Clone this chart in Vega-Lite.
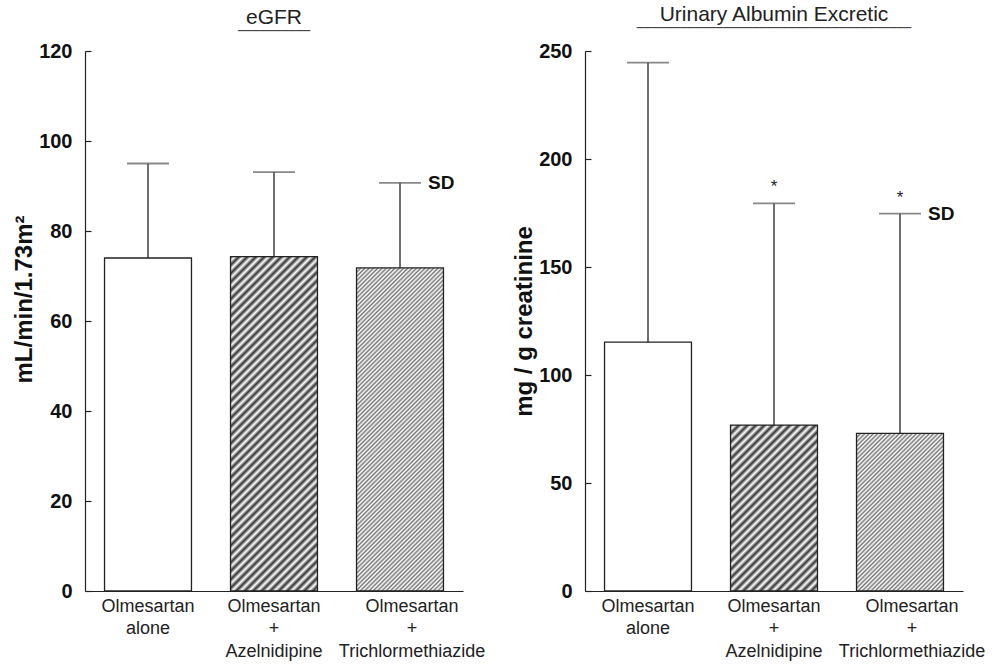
{
  "$schema": "https://vega.github.io/schema/vega-lite/v6.json",
  "padding": {"left": 12, "top": 3, "right": 5, "bottom": 2},
  "background": "white",
  "params": [
    {"name": "hatchA", "value": [{"offset":0,"color":"#333"},{"offset":0.01,"color":"#fff"},{"offset":0.02,"color":"#333"},{"offset":0.03,"color":"#fff"},{"offset":0.04,"color":"#333"},{"offset":0.05,"color":"#fff"},{"offset":0.06,"color":"#333"},{"offset":0.07,"color":"#fff"},{"offset":0.08,"color":"#333"},{"offset":0.09,"color":"#fff"},{"offset":0.1,"color":"#333"},{"offset":0.11,"color":"#fff"},{"offset":0.12,"color":"#333"},{"offset":0.13,"color":"#fff"},{"offset":0.14,"color":"#333"},{"offset":0.15,"color":"#fff"},{"offset":0.16,"color":"#333"},{"offset":0.17,"color":"#fff"},{"offset":0.18,"color":"#333"},{"offset":0.19,"color":"#fff"},{"offset":0.2,"color":"#333"},{"offset":0.21,"color":"#fff"},{"offset":0.22,"color":"#333"},{"offset":0.23,"color":"#fff"},{"offset":0.24,"color":"#333"},{"offset":0.25,"color":"#fff"},{"offset":0.26,"color":"#333"},{"offset":0.27,"color":"#fff"},{"offset":0.28,"color":"#333"},{"offset":0.29,"color":"#fff"},{"offset":0.3,"color":"#333"},{"offset":0.31,"color":"#fff"},{"offset":0.32,"color":"#333"},{"offset":0.33,"color":"#fff"},{"offset":0.34,"color":"#333"},{"offset":0.35,"color":"#fff"},{"offset":0.36,"color":"#333"},{"offset":0.37,"color":"#fff"},{"offset":0.38,"color":"#333"},{"offset":0.39,"color":"#fff"},{"offset":0.4,"color":"#333"},{"offset":0.41,"color":"#fff"},{"offset":0.42,"color":"#333"},{"offset":0.43,"color":"#fff"},{"offset":0.44,"color":"#333"},{"offset":0.45,"color":"#fff"},{"offset":0.46,"color":"#333"},{"offset":0.47,"color":"#fff"},{"offset":0.48,"color":"#333"},{"offset":0.49,"color":"#fff"},{"offset":0.5,"color":"#333"},{"offset":0.51,"color":"#fff"},{"offset":0.52,"color":"#333"},{"offset":0.53,"color":"#fff"},{"offset":0.54,"color":"#333"},{"offset":0.55,"color":"#fff"},{"offset":0.56,"color":"#333"},{"offset":0.57,"color":"#fff"},{"offset":0.58,"color":"#333"},{"offset":0.59,"color":"#fff"},{"offset":0.6,"color":"#333"},{"offset":0.61,"color":"#fff"},{"offset":0.62,"color":"#333"},{"offset":0.63,"color":"#fff"},{"offset":0.64,"color":"#333"},{"offset":0.65,"color":"#fff"},{"offset":0.66,"color":"#333"},{"offset":0.67,"color":"#fff"},{"offset":0.68,"color":"#333"},{"offset":0.69,"color":"#fff"},{"offset":0.7,"color":"#333"},{"offset":0.71,"color":"#fff"},{"offset":0.72,"color":"#333"},{"offset":0.73,"color":"#fff"},{"offset":0.74,"color":"#333"},{"offset":0.75,"color":"#fff"},{"offset":0.76,"color":"#333"},{"offset":0.77,"color":"#fff"},{"offset":0.78,"color":"#333"},{"offset":0.79,"color":"#fff"},{"offset":0.8,"color":"#333"},{"offset":0.81,"color":"#fff"},{"offset":0.82,"color":"#333"},{"offset":0.83,"color":"#fff"},{"offset":0.84,"color":"#333"},{"offset":0.85,"color":"#fff"},{"offset":0.86,"color":"#333"},{"offset":0.87,"color":"#fff"},{"offset":0.88,"color":"#333"},{"offset":0.89,"color":"#fff"},{"offset":0.9,"color":"#333"},{"offset":0.91,"color":"#fff"},{"offset":0.92,"color":"#333"},{"offset":0.93,"color":"#fff"},{"offset":0.94,"color":"#333"},{"offset":0.95,"color":"#fff"},{"offset":0.96,"color":"#333"},{"offset":0.97,"color":"#fff"},{"offset":0.98,"color":"#333"},{"offset":0.99,"color":"#fff"},{"offset":1,"color":"#333"}]},
    {"name": "hatchB", "value": [{"offset":0,"color":"#777"},{"offset":0.005,"color":"#fff"},{"offset":0.01,"color":"#777"},{"offset":0.015,"color":"#fff"},{"offset":0.02,"color":"#777"},{"offset":0.025,"color":"#fff"},{"offset":0.03,"color":"#777"},{"offset":0.035,"color":"#fff"},{"offset":0.04,"color":"#777"},{"offset":0.045,"color":"#fff"},{"offset":0.05,"color":"#777"},{"offset":0.055,"color":"#fff"},{"offset":0.06,"color":"#777"},{"offset":0.065,"color":"#fff"},{"offset":0.07,"color":"#777"},{"offset":0.075,"color":"#fff"},{"offset":0.08,"color":"#777"},{"offset":0.085,"color":"#fff"},{"offset":0.09,"color":"#777"},{"offset":0.095,"color":"#fff"},{"offset":0.1,"color":"#777"},{"offset":0.105,"color":"#fff"},{"offset":0.11,"color":"#777"},{"offset":0.115,"color":"#fff"},{"offset":0.12,"color":"#777"},{"offset":0.125,"color":"#fff"},{"offset":0.13,"color":"#777"},{"offset":0.135,"color":"#fff"},{"offset":0.14,"color":"#777"},{"offset":0.145,"color":"#fff"},{"offset":0.15,"color":"#777"},{"offset":0.155,"color":"#fff"},{"offset":0.16,"color":"#777"},{"offset":0.165,"color":"#fff"},{"offset":0.17,"color":"#777"},{"offset":0.175,"color":"#fff"},{"offset":0.18,"color":"#777"},{"offset":0.185,"color":"#fff"},{"offset":0.19,"color":"#777"},{"offset":0.195,"color":"#fff"},{"offset":0.2,"color":"#777"},{"offset":0.205,"color":"#fff"},{"offset":0.21,"color":"#777"},{"offset":0.215,"color":"#fff"},{"offset":0.22,"color":"#777"},{"offset":0.225,"color":"#fff"},{"offset":0.23,"color":"#777"},{"offset":0.235,"color":"#fff"},{"offset":0.24,"color":"#777"},{"offset":0.245,"color":"#fff"},{"offset":0.25,"color":"#777"},{"offset":0.255,"color":"#fff"},{"offset":0.26,"color":"#777"},{"offset":0.265,"color":"#fff"},{"offset":0.27,"color":"#777"},{"offset":0.275,"color":"#fff"},{"offset":0.28,"color":"#777"},{"offset":0.285,"color":"#fff"},{"offset":0.29,"color":"#777"},{"offset":0.295,"color":"#fff"},{"offset":0.3,"color":"#777"},{"offset":0.305,"color":"#fff"},{"offset":0.31,"color":"#777"},{"offset":0.315,"color":"#fff"},{"offset":0.32,"color":"#777"},{"offset":0.325,"color":"#fff"},{"offset":0.33,"color":"#777"},{"offset":0.335,"color":"#fff"},{"offset":0.34,"color":"#777"},{"offset":0.345,"color":"#fff"},{"offset":0.35,"color":"#777"},{"offset":0.355,"color":"#fff"},{"offset":0.36,"color":"#777"},{"offset":0.365,"color":"#fff"},{"offset":0.37,"color":"#777"},{"offset":0.375,"color":"#fff"},{"offset":0.38,"color":"#777"},{"offset":0.385,"color":"#fff"},{"offset":0.39,"color":"#777"},{"offset":0.395,"color":"#fff"},{"offset":0.4,"color":"#777"},{"offset":0.405,"color":"#fff"},{"offset":0.41,"color":"#777"},{"offset":0.415,"color":"#fff"},{"offset":0.42,"color":"#777"},{"offset":0.425,"color":"#fff"},{"offset":0.43,"color":"#777"},{"offset":0.435,"color":"#fff"},{"offset":0.44,"color":"#777"},{"offset":0.445,"color":"#fff"},{"offset":0.45,"color":"#777"},{"offset":0.455,"color":"#fff"},{"offset":0.46,"color":"#777"},{"offset":0.465,"color":"#fff"},{"offset":0.47,"color":"#777"},{"offset":0.475,"color":"#fff"},{"offset":0.48,"color":"#777"},{"offset":0.485,"color":"#fff"},{"offset":0.49,"color":"#777"},{"offset":0.495,"color":"#fff"},{"offset":0.5,"color":"#777"},{"offset":0.505,"color":"#fff"},{"offset":0.51,"color":"#777"},{"offset":0.515,"color":"#fff"},{"offset":0.52,"color":"#777"},{"offset":0.525,"color":"#fff"},{"offset":0.53,"color":"#777"},{"offset":0.535,"color":"#fff"},{"offset":0.54,"color":"#777"},{"offset":0.545,"color":"#fff"},{"offset":0.55,"color":"#777"},{"offset":0.555,"color":"#fff"},{"offset":0.56,"color":"#777"},{"offset":0.565,"color":"#fff"},{"offset":0.57,"color":"#777"},{"offset":0.575,"color":"#fff"},{"offset":0.58,"color":"#777"},{"offset":0.585,"color":"#fff"},{"offset":0.59,"color":"#777"},{"offset":0.595,"color":"#fff"},{"offset":0.6,"color":"#777"},{"offset":0.605,"color":"#fff"},{"offset":0.61,"color":"#777"},{"offset":0.615,"color":"#fff"},{"offset":0.62,"color":"#777"},{"offset":0.625,"color":"#fff"},{"offset":0.63,"color":"#777"},{"offset":0.635,"color":"#fff"},{"offset":0.64,"color":"#777"},{"offset":0.645,"color":"#fff"},{"offset":0.65,"color":"#777"},{"offset":0.655,"color":"#fff"},{"offset":0.66,"color":"#777"},{"offset":0.665,"color":"#fff"},{"offset":0.67,"color":"#777"},{"offset":0.675,"color":"#fff"},{"offset":0.68,"color":"#777"},{"offset":0.685,"color":"#fff"},{"offset":0.69,"color":"#777"},{"offset":0.695,"color":"#fff"},{"offset":0.7,"color":"#777"},{"offset":0.705,"color":"#fff"},{"offset":0.71,"color":"#777"},{"offset":0.715,"color":"#fff"},{"offset":0.72,"color":"#777"},{"offset":0.725,"color":"#fff"},{"offset":0.73,"color":"#777"},{"offset":0.735,"color":"#fff"},{"offset":0.74,"color":"#777"},{"offset":0.745,"color":"#fff"},{"offset":0.75,"color":"#777"},{"offset":0.755,"color":"#fff"},{"offset":0.76,"color":"#777"},{"offset":0.765,"color":"#fff"},{"offset":0.77,"color":"#777"},{"offset":0.775,"color":"#fff"},{"offset":0.78,"color":"#777"},{"offset":0.785,"color":"#fff"},{"offset":0.79,"color":"#777"},{"offset":0.795,"color":"#fff"},{"offset":0.8,"color":"#777"},{"offset":0.805,"color":"#fff"},{"offset":0.81,"color":"#777"},{"offset":0.815,"color":"#fff"},{"offset":0.82,"color":"#777"},{"offset":0.825,"color":"#fff"},{"offset":0.83,"color":"#777"},{"offset":0.835,"color":"#fff"},{"offset":0.84,"color":"#777"},{"offset":0.845,"color":"#fff"},{"offset":0.85,"color":"#777"},{"offset":0.855,"color":"#fff"},{"offset":0.86,"color":"#777"},{"offset":0.865,"color":"#fff"},{"offset":0.87,"color":"#777"},{"offset":0.875,"color":"#fff"},{"offset":0.88,"color":"#777"},{"offset":0.885,"color":"#fff"},{"offset":0.89,"color":"#777"},{"offset":0.895,"color":"#fff"},{"offset":0.9,"color":"#777"},{"offset":0.905,"color":"#fff"},{"offset":0.91,"color":"#777"},{"offset":0.915,"color":"#fff"},{"offset":0.92,"color":"#777"},{"offset":0.925,"color":"#fff"},{"offset":0.93,"color":"#777"},{"offset":0.935,"color":"#fff"},{"offset":0.94,"color":"#777"},{"offset":0.945,"color":"#fff"},{"offset":0.95,"color":"#777"},{"offset":0.955,"color":"#fff"},{"offset":0.96,"color":"#777"},{"offset":0.965,"color":"#fff"},{"offset":0.97,"color":"#777"},{"offset":0.975,"color":"#fff"},{"offset":0.98,"color":"#777"},{"offset":0.985,"color":"#fff"},{"offset":0.99,"color":"#777"},{"offset":0.995,"color":"#fff"},{"offset":1,"color":"#777"}]}
  ],
  "config": {
    "view": {"stroke": null},
    "font": "Liberation Sans",
    "axis": {"domainColor": "#222", "domainWidth": 1.2, "grid": false, "labelColor": "#111", "titleColor": "#111", "labelFont": "Liberation Sans", "titleFont": "Liberation Sans"},
    "axisY": {"tickSize": -6, "tickColor": "#222", "tickWidth": 1.2, "labelFontSize": 20, "labelFontWeight": "bold", "labelPadding": 19, "titleFontSize": 24, "titleFontWeight": "bold", "titlePadding": 2},
    "axisX": {"ticks": false, "labelFontSize": 18, "labelPadding": 6, "labelLineHeight": 22.5, "labelAngle": 0, "labelColor": "#222"},
    "title": {"fontSize": 21, "fontWeight": "normal", "color": "#222", "font": "Liberation Sans", "subtitleFont": "DejaVu Sans Mono", "subtitleFontSize": 12, "subtitleColor": "#333", "subtitlePadding": -2, "offset": 0},
    "concat": {"spacing": 27}
  },
  "hconcat": [
    {
      "width": 378,
      "height": 540,
      "title": {"text": "eGFR", "subtitle": "──────────"},
      "data": {"values": [
        {"g": "Olmesartan alone", "mean": 74.0, "upper": 95.0},
        {"g": "Olmesartan + Azelnidipine", "mean": 74.3, "upper": 93.1},
        {"g": "Olmesartan + Trichlormethiazide", "mean": 71.8, "upper": 90.7}
      ]},
      "encoding": {
        "x": {"field": "g", "type": "nominal", "sort": null, "title": null,
          "scale": {"paddingInner": 0.31, "paddingOuter": 0.155},
          "axis": {"labelExpr": "split(datum.label, ' ')", "labelOffset": {"condition": {"test": "datum.value == 'Olmesartan + Trichlormethiazide'", "value": 12}, "value": 0}}}
      },
      "layer": [
        {"mark": {"type": "bar", "stroke": "#222", "strokeWidth": 1.3},
         "encoding": {
           "y": {"field": "mean", "type": "quantitative", "title": "mL/min/1.73m²", "scale": {"domain": [0, 120], "nice": false}, "axis": {"values": [0, 20, 40, 60, 80, 100, 120], "titleY": 248}},
           "fill": {"value": {"expr": "datum.g == 'Olmesartan alone' ? '#ffffff' : {gradient: 'linear', x1: 0, y1: 0, x2: 86.94 * (datum.g == 'Olmesartan + Azelnidipine' ? 425 : 430) / (7558.6 + pow(datum.mean * 4.5, 2)), y2: datum.mean * 4.5 * (datum.g == 'Olmesartan + Azelnidipine' ? 425 : 430) / (7558.6 + pow(datum.mean * 4.5, 2)), stops: datum.g == 'Olmesartan + Azelnidipine' ? hatchA : hatchB}"}}
         }},
        {"mark": {"type": "rule", "color": "#222", "strokeWidth": 1.3},
         "encoding": {"y": {"field": "upper", "type": "quantitative", "title": "mL/min/1.73m²"}, "y2": {"field": "mean"}}},
        {"mark": {"type": "tick", "orient": "horizontal", "size": 42, "thickness": 1.8, "color": "#555"},
         "encoding": {"y": {"field": "upper", "type": "quantitative", "title": "mL/min/1.73m²"}}},
        {"transform": [{"filter": "datum.g == 'Olmesartan + Trichlormethiazide'"}],
         "mark": {"type": "text", "text": "SD", "align": "left", "baseline": "middle", "dx": 28, "fontSize": 19, "fontWeight": "bold", "color": "#111"},
         "encoding": {"y": {"field": "upper", "type": "quantitative", "title": "mL/min/1.73m²"}}}
      ]
    },
    {
      "width": 378,
      "height": 540,
      "title": {"text": "Urinary Albumin Excretic", "subtitle": "──────────────────────────────────────"},
      "data": {"values": [
        {"g": "Olmesartan alone", "mean": 115.2, "upper": 244.6, "sig": ""},
        {"g": "Olmesartan + Azelnidipine", "mean": 76.8, "upper": 179.5, "sig": "*"},
        {"g": "Olmesartan + Trichlormethiazide", "mean": 73.0, "upper": 174.7, "sig": "*"}
      ]},
      "encoding": {
        "x": {"field": "g", "type": "nominal", "sort": null, "title": null,
          "scale": {"paddingInner": 0.31, "paddingOuter": 0.155},
          "axis": {"labelExpr": "split(datum.label, ' ')", "labelOffset": {"condition": {"test": "datum.value == 'Olmesartan + Trichlormethiazide'", "value": 12}, "value": 0}}}
      },
      "layer": [
        {"mark": {"type": "bar", "stroke": "#222", "strokeWidth": 1.3},
         "encoding": {
           "y": {"field": "mean", "type": "quantitative", "title": "mg / g creatinine", "scale": {"domain": [0, 250], "nice": false}, "axis": {"values": [0, 50, 100, 150, 200, 250]}},
           "fill": {"value": {"expr": "datum.g == 'Olmesartan alone' ? '#ffffff' : {gradient: 'linear', x1: 0, y1: 0, x2: 86.94 * (datum.g == 'Olmesartan + Azelnidipine' ? 425 : 430) / (7558.6 + pow(datum.mean * 2.16, 2)), y2: datum.mean * 2.16 * (datum.g == 'Olmesartan + Azelnidipine' ? 425 : 430) / (7558.6 + pow(datum.mean * 2.16, 2)), stops: datum.g == 'Olmesartan + Azelnidipine' ? hatchA : hatchB}"}}
         }},
        {"mark": {"type": "rule", "color": "#222", "strokeWidth": 1.3},
         "encoding": {"y": {"field": "upper", "type": "quantitative", "title": "mg / g creatinine"}, "y2": {"field": "mean"}}},
        {"mark": {"type": "tick", "orient": "horizontal", "size": 42, "thickness": 1.8, "color": "#555"},
         "encoding": {"y": {"field": "upper", "type": "quantitative", "title": "mg / g creatinine"}}},
        {"mark": {"type": "text", "baseline": "alphabetic", "dy": -11, "fontSize": 17, "color": "#222"},
         "encoding": {"y": {"field": "upper", "type": "quantitative", "title": "mg / g creatinine"}, "text": {"field": "sig"}}},
        {"transform": [{"filter": "datum.g == 'Olmesartan + Trichlormethiazide'"}],
         "mark": {"type": "text", "text": "SD", "align": "left", "baseline": "middle", "dx": 28, "fontSize": 19, "fontWeight": "bold", "color": "#111"},
         "encoding": {"y": {"field": "upper", "type": "quantitative", "title": "mg / g creatinine"}}}
      ]
    }
  ]
}
